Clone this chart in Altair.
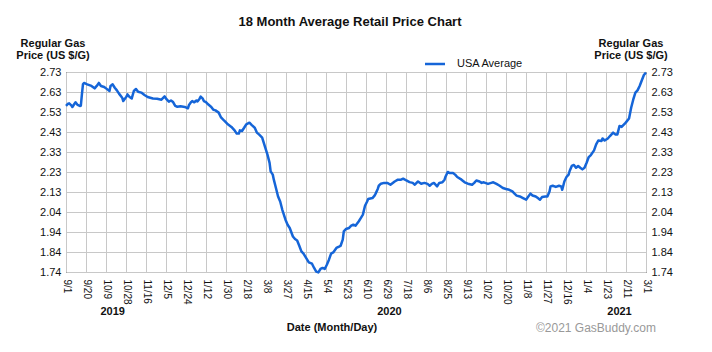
import altair as alt
import pandas as pd

# Days since 2019-09-01 and average retail price (US $/G)
days = [0, 2, 3, 5, 6, 8, 9, 11, 13, 14, 15, 16, 17, 20, 24, 27, 29, 31, 33, 36,
        39, 41, 42, 44, 46, 48, 50, 53, 54, 57, 58, 60, 62, 64, 66, 68, 71, 74, 77, 82,
        86, 90, 93, 95, 97, 99, 101, 103, 105, 108, 112, 115, 116, 118, 119, 121, 123, 124, 126, 127,
        129, 130, 132, 134, 137, 139, 141, 144, 146, 149, 152, 156, 159, 161, 163, 164, 166, 168, 170, 173,
        175, 178, 180, 182, 185, 188, 190, 192, 193, 195, 196, 198, 200, 202, 204, 207, 209, 211, 214, 216,
        218, 220, 222, 224, 226, 229, 232, 234, 236, 238, 240, 242, 244, 246, 248, 250, 252, 255, 258, 259,
        261, 262, 264, 267, 269, 271, 273, 276, 278, 280, 282, 284, 285, 289, 291, 292, 294, 295, 297, 300,
        303, 306, 310, 313, 316, 318, 321, 324, 327, 329, 332, 335, 338, 341, 343, 345, 347, 350, 352, 355,
        357, 358, 360, 362, 365, 367, 369, 373, 376, 379, 383, 385, 387, 390, 392, 394, 398, 401, 403, 406,
        409, 412, 415, 418, 421, 423, 425, 428, 431, 434, 435, 438, 440, 443, 445, 447, 449, 452, 454, 456,
        457, 459, 462, 465, 467, 468, 470, 472, 474, 475, 477, 479, 481, 483, 485, 487, 489, 491, 493, 495,
        498, 500, 502, 505, 506, 508, 511, 513, 516, 518, 520, 522, 524, 527, 529, 531, 533, 535, 537, 539,
        541, 543, 545, 547]
prices = [2.562, 2.573, 2.575, 2.565, 2.557, 2.573, 2.580, 2.567, 2.562, 2.563, 2.619, 2.669, 2.676, 2.669, 2.661, 2.649, 2.661, 2.676, 2.661, 2.656,
          2.644, 2.636, 2.661, 2.669, 2.652, 2.639, 2.623, 2.603, 2.586, 2.608, 2.619, 2.606, 2.599, 2.636, 2.646, 2.632, 2.628, 2.616, 2.606, 2.599,
          2.598, 2.593, 2.609, 2.594, 2.583, 2.589, 2.581, 2.562, 2.558, 2.560, 2.557, 2.550, 2.567, 2.581, 2.586, 2.580, 2.589, 2.584, 2.598, 2.608,
          2.598, 2.586, 2.581, 2.570, 2.557, 2.543, 2.540, 2.529, 2.507, 2.490, 2.474, 2.458, 2.441, 2.425, 2.425, 2.441, 2.438, 2.454, 2.471, 2.479,
          2.468, 2.454, 2.430, 2.421, 2.405, 2.354, 2.321, 2.280, 2.238, 2.222, 2.197, 2.156, 2.114, 2.089, 2.048, 1.999, 1.974, 1.958, 1.916, 1.903,
          1.896, 1.870, 1.842, 1.831, 1.814, 1.788, 1.781, 1.760, 1.742, 1.738, 1.755, 1.760, 1.755, 1.776, 1.801, 1.831, 1.837, 1.859, 1.867, 1.870,
          1.900, 1.941, 1.953, 1.958, 1.969, 1.974, 1.969, 1.990, 2.007, 2.024, 2.068, 2.089, 2.101, 2.106, 2.118, 2.128, 2.151, 2.167, 2.177, 2.181,
          2.181, 2.172, 2.188, 2.197, 2.197, 2.202, 2.193, 2.185, 2.181, 2.172, 2.188, 2.177, 2.181, 2.176, 2.167, 2.176, 2.181, 2.164, 2.181, 2.184,
          2.197, 2.213, 2.235, 2.230, 2.230, 2.222, 2.210, 2.197, 2.184, 2.177, 2.172, 2.181, 2.193, 2.188, 2.181, 2.184, 2.176, 2.181, 2.184, 2.176,
          2.167, 2.156, 2.151, 2.147, 2.139, 2.128, 2.118, 2.114, 2.106, 2.098, 2.106, 2.128, 2.119, 2.114, 2.106, 2.098, 2.111, 2.114, 2.114, 2.139,
          2.164, 2.167, 2.161, 2.167, 2.164, 2.147, 2.188, 2.210, 2.222, 2.240, 2.265, 2.270, 2.256, 2.265, 2.256, 2.248, 2.256, 2.281, 2.309, 2.319,
          2.342, 2.372, 2.391, 2.388, 2.401, 2.391, 2.401, 2.413, 2.430, 2.421, 2.421, 2.463, 2.458, 2.474, 2.487, 2.500, 2.553, 2.594, 2.628, 2.639,
          2.661, 2.688, 2.715, 2.727]

x_labels = ["9/1", "9/20", "10/9", "10/28", "11/16", "12/5", "12/24", "1/12", "1/30", "2/18",
            "3/8", "3/27", "4/15", "5/4", "5/23", "6/10", "6/29", "7/18", "8/6", "8/25",
            "9/13", "10/2", "10/20", "11/8", "11/27", "12/16", "1/4", "1/23", "2/11", "3/1"]
y_labels = ["1.74", "1.84", "1.94", "2.04", "2.13", "2.23", "2.33", "2.43", "2.53", "2.63", "2.73"]
years = ["2019", "2020", "2021"]
year_days = [44, 305, 522]

TOTAL_DAYS = 547
Y_MIN, Y_MAX = 1.74, 2.73
FONT = "Liberation Sans"
BLUE = "#1565d8"
GRID = "#c8c8c8"

df = pd.DataFrame({"day": days, "price": prices})

nx = len(x_labels) - 1
ny = len(y_labels) - 1
x_ticks = [TOTAL_DAYS * i / nx for i in range(nx + 1)]
y_step = (Y_MAX - Y_MIN) / ny
y_ticks = [Y_MIN + y_step * i for i in range(ny + 1)]

xlab_expr = "[" + ",".join(f"'{s}'" for s in x_labels) + f"][round(datum.value*{nx}/{TOTAL_DAYS})]"
ylab_expr = "[" + ",".join(f"'{s}'" for s in y_labels) + f"][round((datum.value-{Y_MIN})/{y_step})]"

x_scale = alt.Scale(domain=[0, TOTAL_DAYS], nice=False, zero=False)
y_scale = alt.Scale(domain=[Y_MIN, Y_MAX], nice=False, zero=False)

x_axis = alt.Axis(values=x_ticks, labelExpr=xlab_expr, labelAngle=90, title=None,
                  grid=True, gridColor=GRID, domain=False, ticks=False, labelPadding=7,
                  labelFontSize=10, labelFont=FONT, labelColor="#111",
                  labelOverlap=False, labelFlush=False)

common_y_axis = dict(values=y_ticks, labelExpr=ylab_expr, title=None, domain=False, ticks=False,
                     labelPadding=5, labelFontSize=11, labelFont=FONT, labelColor="#111",
                     labelOverlap=False, labelFlush=False)

line = alt.Chart(df).mark_line(color=BLUE, strokeWidth=2.5, strokeJoin="round").encode(
    x=alt.X("day:Q", scale=x_scale, axis=x_axis),
    y=alt.Y("price:Q", scale=y_scale,
            axis=alt.Axis(orient="left", grid=True, gridColor=GRID, **common_y_axis)),
)

right = alt.Chart(df).mark_line(opacity=0).encode(
    x=alt.X("day:Q", scale=x_scale, axis=x_axis),
    y=alt.Y("price:Q", scale=y_scale, axis=alt.Axis(orient="right", grid=False, **common_y_axis)),
)


def label(text, x, y, size=11, bold=True, color="#111", align="center"):
    kw = dict(font=FONT, fontSize=size, color=color, align=align, baseline="middle")
    if bold:
        kw["fontWeight"] = "bold"
    return alt.Chart(pd.DataFrame({"t": [text]})).mark_text(**kw).encode(
        text="t:N", x=alt.value(x), y=alt.value(y))


title = label("18 Month Average Retail Price Chart", 284, -50, size=13)
yt_l1 = label("Regular Gas", -13, -28)
yt_l2 = label("Price (US $/G)", -13, -16)
yt_r1 = label("Regular Gas", 565, -28)
yt_r2 = label("Price (US $/G)", 565, -16)
legend_text = label("USA Average", 391, -8, bold=False, align="left")
xtitle = label("Date (Month/Day)", 266, 256)
copyright_text = label("\u00a92021 GasBuddy.com", 590, 256, size=12, bold=False,
                       color="#999999", align="right")

legend_line = alt.Chart(pd.DataFrame({"s": ["USA Average"]})).mark_rule(
    color=BLUE, strokeWidth=2.5
).encode(x=alt.value(359), x2=alt.value(379), y=alt.value(-8))

year_text = alt.Chart(pd.DataFrame({"year": years, "day": year_days})).mark_text(
    font=FONT, fontSize=11, fontWeight="bold", color="#111", align="center", baseline="middle"
).encode(text="year:N", x=alt.X("day:Q", scale=x_scale, axis=x_axis), y=alt.value(240))

chart = alt.layer(
    line, right, year_text, title, yt_l1, yt_l2, yt_r1, yt_r2, legend_line, legend_text,
    xtitle, copyright_text
).resolve_scale(y="independent").properties(
    width=580, height=200,
    autosize=alt.AutoSizeParams(type="none"),
    padding={"left": 66, "top": 72, "right": 66, "bottom": 80},
    background="white",
).configure_view(stroke="black", strokeWidth=1)

chart.save("out.html", embed_options={"renderer": "svg", "actions": False})
